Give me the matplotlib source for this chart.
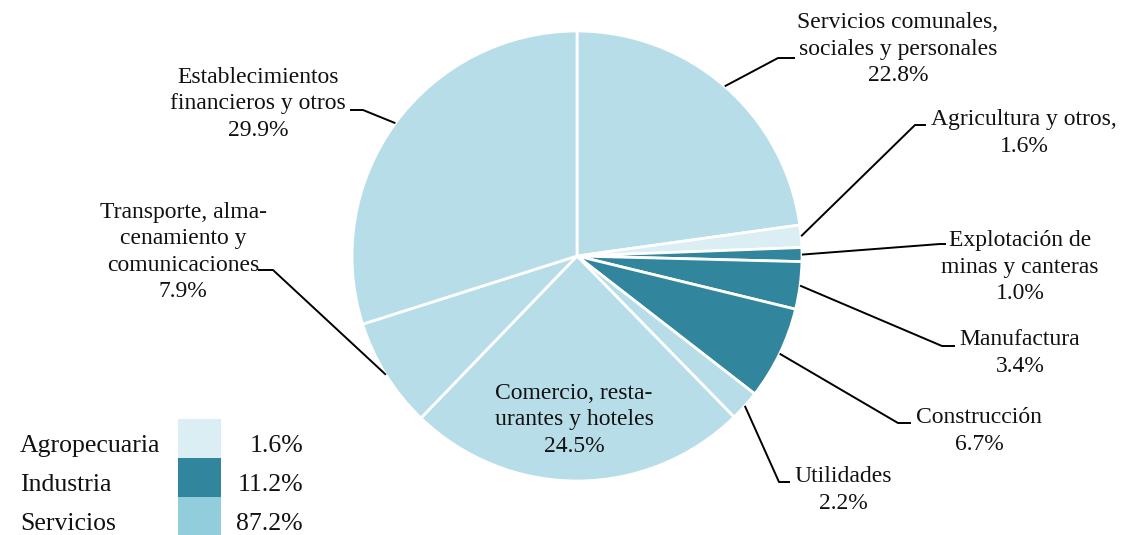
import numpy as np
import matplotlib.pyplot as plt
from matplotlib.patches import Rectangle

plt.rcParams["font.family"] = ["Liberation Serif", "DejaVu Serif"]

sectors = [
    "Servicios comunales,\nsociales y personales",
    "Agricultura y otros,",
    "Explotación de\nminas y canteras",
    "Manufactura",
    "Construcción",
    "Utilidades",
    "Comercio, resta-\nurantes y hoteles",
    "Transporte, alma-\ncenamiento y\ncomunicaciones",
    "Establecimientos\nfinancieros y otros",
]
shares = [22.8, 1.6, 1.0, 3.4, 6.7, 2.2, 24.5, 7.9, 29.9]
groups = ["S", "A", "I", "I", "I", "S", "S", "S", "S"]

legend_names = ["Agropecuaria", "Industria", "Servicios"]
legend_values = [1.6, 11.2, 87.2]

pie_colors = {"A": "#daeef3", "I": "#31859c", "S": "#b7dee8"}
legend_colors = ["#daeef3", "#31859c", "#92cddc"]

# layout (pixel coords, y downwards)
cx, cy, r = 577, 256, 225
# text centre, elbow point, end of horizontal stub
label_layout = [
    ((898, 49), (778, 58), (795, 58)),
    ((1024, 133), (915, 125), (926, 125)),
    ((1020, 267), (940, 244), (946, 244)),
    ((1020, 353), (942, 346), (955, 346)),
    ((979, 431), (898, 423), (911, 423)),
    ((843, 490), (779, 482), (790, 482)),
    ((574, 420), None, None),
    ((183, 252), (273, 270), (258, 270)),
    ((258, 104), (363, 110), (350, 110)),
]

fig = plt.figure(figsize=(11.23, 5.35), dpi=100)
ax = fig.add_axes([0, 0, 1, 1])

ax.pie(shares, colors=[pie_colors[g] for g in groups], startangle=-90,
       counterclock=True, center=(cx, cy), radius=r,
       wedgeprops=dict(edgecolor="white", linewidth=2))

ax.set_xlim(0, 1123)
ax.set_ylim(535, 0)
ax.set_aspect("equal")
ax.axis("off")

cum = np.cumsum([0] + shares[:-1])
for name, val, c0, (tpos, elbow, stub) in zip(sectors, shares, cum, label_layout):
    theta = np.deg2rad(-90 + 3.6 * (c0 + val / 2))
    ex, ey = cx + r * np.cos(theta), cy + r * np.sin(theta)
    ax.text(tpos[0], tpos[1], f"{name}\n{val:.1f}%", ha="center", va="center",
            fontsize=17, linespacing=1.32, color="#111111")
    if elbow is not None:
        ax.plot([ex, elbow[0], stub[0]], [ey, elbow[1], stub[1]],
                color="black", linewidth=1.4, solid_capstyle="butt")

# legend table
for i, (nm, v, col) in enumerate(zip(legend_names, legend_values, legend_colors)):
    y0 = 419 + i * 39
    ax.add_patch(Rectangle((178, y0), 43, 39, facecolor=col, edgecolor="none"))
    ax.text(20, y0 + 27, nm, ha="left", va="center", fontsize=18.5, color="#111111")
    ax.text(303, y0 + 27, f"{v:.1f}%", ha="right", va="center", fontsize=18.5,
            color="#111111")

fig.savefig("out.png", dpi=100)
